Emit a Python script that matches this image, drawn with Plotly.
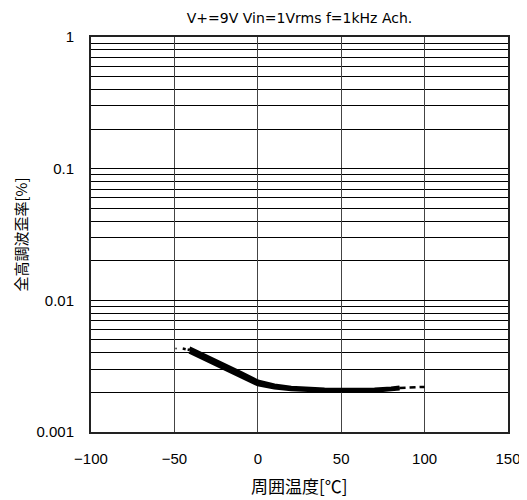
import plotly.graph_objects as go

# Data
temp_c = [-41, -30, -20, -10, 0, 10, 20, 30, 40, 50, 60, 70, 80, 85]
thd_upper = [0.00432, 0.00372, 0.00323, 0.00281, 0.00242, 0.00226, 0.00217,
             0.00212, 0.00210, 0.00209, 0.00209, 0.00210, 0.00214, 0.00218]
thd_lower = [0.00408, 0.00349, 0.00303, 0.00264, 0.00230, 0.00218, 0.00211,
             0.00208, 0.00206, 0.00205, 0.00205, 0.00206, 0.00210, 0.00214]
ext_left_t = [-45, -41]
ext_left_v = [0.0043, 0.0042]
ext_right_t = [85, 100]
ext_right_v = [0.00216, 0.00220]
dot_t = [-49]
dot_v = [0.0043]

x_ticks = [-100, -50, 0, 50, 100, 150]
y_ticks = [0.001, 0.01, 0.1, 1]
y_ticktext = ["0.001", "0.01", "0.1", "1"]
y_minor = [m * 10 ** e for e in (-3, -2, -1) for m in range(2, 10)]

title = "V+=9V Vin=1Vrms f=1kHz Ach."
x_title = "周囲温度[℃]"
y_title = "全高調波歪率[%]"

FONT = "Liberation Sans, Noto Sans CJK JP, sans-serif"
CJK = "Noto Sans CJK JP, sans-serif"

# page body has an 8px default margin -> figure is 8px smaller
W, H = 519, 492
L, R, T, B = 83, 19, 29, 68
plot_w = W - L - R
plot_h = H - T - B

fig = go.Figure()
for vals in (thd_upper, thd_lower):
    fig.add_trace(go.Scatter(x=temp_c, y=vals, mode="lines",
                             line=dict(color="black", width=4), showlegend=False))
fig.add_trace(go.Scatter(x=ext_left_t, y=ext_left_v, mode="lines",
                         line=dict(color="black", width=2.5, dash="3px,2px"), showlegend=False))
fig.add_trace(go.Scatter(x=ext_right_t, y=ext_right_v, mode="lines",
                         line=dict(color="black", width=2.5, dash="6px,4px"), showlegend=False))
fig.add_trace(go.Scatter(x=dot_t, y=dot_v, mode="markers",
                         marker=dict(color="#555", size=2), showlegend=False))

fig.update_layout(
    width=W, height=H,
    margin=dict(l=L, r=R, t=T, b=B, autoexpand=False),
    paper_bgcolor="white", plot_bgcolor="white",
    font=dict(family=FONT, size=15, color="black"),
    title=dict(text=title, x=(L + plot_w / 2) / W, xanchor="center",
               y=1 - 10 / H, yanchor="middle",
               font=dict(family="DejaVu Sans, sans-serif", size=14, color="black")),
)

fig.update_xaxes(
    range=[-100, 150], tickvals=x_ticks, automargin=False,
    showgrid=True, gridcolor="#444", gridwidth=1,
    showline=True, linecolor="#222", linewidth=2, mirror=True,
    ticks="", ticklabelstandoff=12, zeroline=False,
)
fig.update_yaxes(
    type="log", range=[-3, 0], tickvals=y_ticks, ticktext=y_ticktext, automargin=False,
    showgrid=True, gridcolor="black", gridwidth=1,
    minor=dict(tickvals=y_minor, showgrid=True, gridcolor="black", gridwidth=1, ticks=""),
    showline=True, linecolor="#222", linewidth=2, mirror=True,
    ticks="", ticklabelstandoff=12, zeroline=False,
)

fig.add_annotation(text=x_title, xref="paper", yref="paper",
                   x=0.5, y=-53 / plot_h, xanchor="center", yanchor="middle",
                   showarrow=False, font=dict(family=CJK, size=17, color="black"))
fig.add_annotation(text=y_title, xref="paper", yref="paper",
                   x=-(L - 12) / plot_w, y=0.5, xanchor="center", yanchor="middle",
                   textangle=-90, showarrow=False,
                   font=dict(family=CJK, size=15, color="black"))

fig.write_html("out.html")
